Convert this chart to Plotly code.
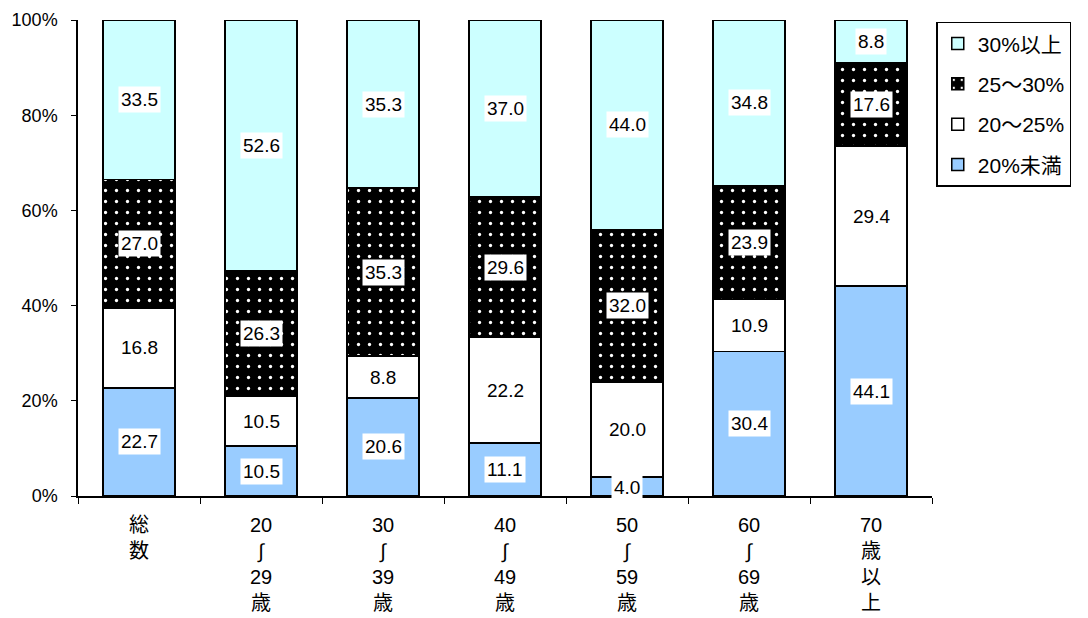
import plotly.graph_objects as go
import numpy as np

categories = ["総<br>数", "20<br>∫<br>29<br>歳", "30<br>∫<br>39<br>歳", "40<br>∫<br>49<br>歳",
              "50<br>∫<br>59<br>歳", "60<br>∫<br>69<br>歳", "70<br>歳<br>以<br>上"]
series_names = ["20%未満", "20～25%", "25～30%", "30%以上"]
under20 = [22.7, 10.5, 20.6, 11.1, 4.0, 30.4, 44.1]
r20_25 = [16.8, 10.5, 8.8, 22.2, 20.0, 10.9, 29.4]
r25_30 = [27.0, 26.3, 35.3, 29.6, 32.0, 23.9, 17.6]
over30 = [33.5, 52.6, 35.3, 37.0, 44.0, 34.8, 8.8]
y_ticks = [0, 20, 40, 60, 80, 100]
y_ticktext = ["0%", "20%", "40%", "60%", "80%", "100%"]

series = [under20, r20_25, r25_30, over30]
colors = ["#99CCFF", "#FFFFFF", "#000000", "#CCFFFF"]
FONT = "Liberation Sans, Arial, Noto Sans CJK JP, sans-serif"

fig = go.Figure()
for i, (name, vals, col) in enumerate(zip(series_names, series, colors)):
    marker = dict(color=col, line=dict(color="black", width=1.5))
    if i == 2:
        marker["pattern"] = dict(shape=".", bgcolor="black", fgcolor="white",
                                 size=11, solidity=0.07, fillmode="replace")
    fig.add_trace(go.Bar(x=list(range(len(categories))), y=vals, name=name,
                         marker=marker, width=0.59, legendgroup=name,
                         legendrank=1000 - i))

# data labels with white background
cum = np.zeros(len(categories))
for vals in series:
    v = np.array(vals)
    for j, val in enumerate(v):
        ypos = cum[j] + val / 2 if val > 5 else cum[j] + val / 2 - 0.3
        fig.add_annotation(x=j, y=ypos, text=f"{val:.1f}", showarrow=False,
                           bgcolor="white", borderpad=2,
                           font=dict(family=FONT, size=19, color="black"))
    cum = cum + v

fig.update_layout(
    barmode="stack",
    width=1080, height=610,
    margin=dict(l=70, r=156, t=12, b=122, autoexpand=False),
    plot_bgcolor="white", paper_bgcolor="white",
    font=dict(family=FONT, size=18, color="black"),
    legend=dict(x=1.005, y=0.996, xanchor="left", yanchor="top",
                traceorder="grouped", bordercolor="black", borderwidth=1.5,
                font=dict(family=FONT, size=21, color="black"),
                tracegroupgap=10, itemwidth=30),
    showlegend=True,
)
fig.update_yaxes(range=[0, 100], tickvals=y_ticks, ticktext=y_ticktext,
                 showline=True, linecolor="black", linewidth=1.5,
                 ticks="outside", ticklen=5, tickcolor="black", showgrid=False,
                 zeroline=False, tickfont=dict(size=18), automargin=False,
                 ticklabelstandoff=10)
fig.update_xaxes(tickvals=list(range(len(categories))), ticktext=categories,
                 range=[-0.5, len(categories) - 0.5],
                 showline=True, linecolor="black", linewidth=1.5,
                 ticks="", showgrid=False, zeroline=False,
                 tickfont=dict(size=20), automargin=False,
                 ticklabelstandoff=10)
fig.update_xaxes(minor=dict(tickvals=[k + 0.5 for k in range(-1, len(categories))],
                            ticks="outside", ticklen=6, tickcolor="black", tickwidth=1.2))

fig.write_html("out.html")
